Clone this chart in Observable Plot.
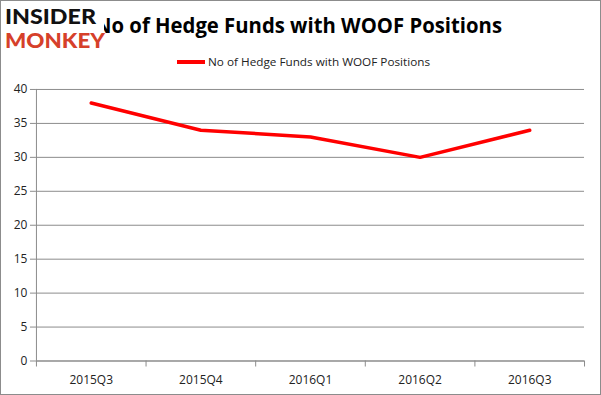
<!DOCTYPE html>
<html>
<head>
<meta charset="utf-8">
<script src="https://cdn.jsdelivr.net/npm/d3@7"></script>
<script src="https://cdn.jsdelivr.net/npm/@observablehq/plot@0.6"></script>
<style>
  html, body { margin: 0; padding: 0; background: #fff; }
  #wrap { position: relative; width: 601px; height: 395px; box-sizing: border-box; border: 1px solid #8c8c8c; overflow: hidden; background: #fff; }
  #header { position: absolute; left: -1px; top: -1px; }
  #chart { position: absolute; left: -1px; top: 69px; }
</style>
</head>
<body>
<div id="wrap">
  <svg id="header" width="601" height="72" xmlns="http://www.w3.org/2000/svg">
    <text x="95" y="33" font-family="Open Sans" font-weight="bold" font-size="21" fill="#000" textLength="407" lengthAdjust="spacingAndGlyphs">No of Hedge Funds with WOOF Positions</text>
    <rect x="0" y="3" width="104" height="48" fill="#fff"></rect>
    <text x="5" y="24" font-family="Lato" font-weight="900" font-size="21" fill="#111" textLength="91" lengthAdjust="spacingAndGlyphs">INSIDER</text>
    <text x="5" y="48" font-family="Lato" font-weight="900" font-size="21" fill="#d6402a" textLength="100" lengthAdjust="spacingAndGlyphs">MONKEY</text>
    <line x1="177" y1="62" x2="205" y2="62" stroke="#ff0000" stroke-width="4"></line>
    <text x="208" y="66" font-family="Open Sans" font-size="11" fill="#222" textLength="222" lengthAdjust="spacingAndGlyphs">No of Hedge Funds with WOOF Positions</text>
  </svg>
  <div id="chart"></div>
</div>
<script>
const categories = ["2015Q3", "2015Q4", "2016Q1", "2016Q2", "2016Q3"];
const values = [38, 34, 33, 30, 34];
const yTicks = [0, 5, 10, 15, 20, 25, 30, 35, 40];
const boundaries = [-0.5, 0.5, 1.5, 2.5, 3.5, 4.5];

const data = categories.map((c, i) => ({i, c, v: values[i]}));
const gray = "#8c8c8c";

const plot = Plot.plot({
  width: 601,
  height: 325,
  marginLeft: 36,
  marginRight: 16,
  marginTop: 19,
  marginBottom: 34,
  style: {fontFamily: "Open Sans", fontSize: "12px", color: "#222", background: "transparent"},
  x: {domain: [-0.5, 4.5]},
  y: {domain: [0, 40]},
  marks: [
    Plot.gridY(yTicks, {stroke: gray, strokeOpacity: 1}),
    Plot.ruleX([-0.5], {stroke: gray}),
    Plot.ruleY([0], {stroke: gray}),
    Plot.axisY({ticks: yTicks, tickSize: 6, tickPadding: 3, stroke: gray, fill: "#222", label: null}),
    Plot.axisX({ticks: boundaries, tickSize: 6, tickFormat: () => "", stroke: gray, label: null}),
    Plot.axisX({ticks: categories.map((c, i) => i), tickSize: 0, tickPadding: 14, tickFormat: i => categories[i], fill: "#222", label: null}),
    Plot.line(data, {x: "i", y: "v", stroke: "#ff0000", strokeWidth: 3.5})
  ]
});
document.getElementById("chart").appendChild(plot);
</script>
</body>
</html>
